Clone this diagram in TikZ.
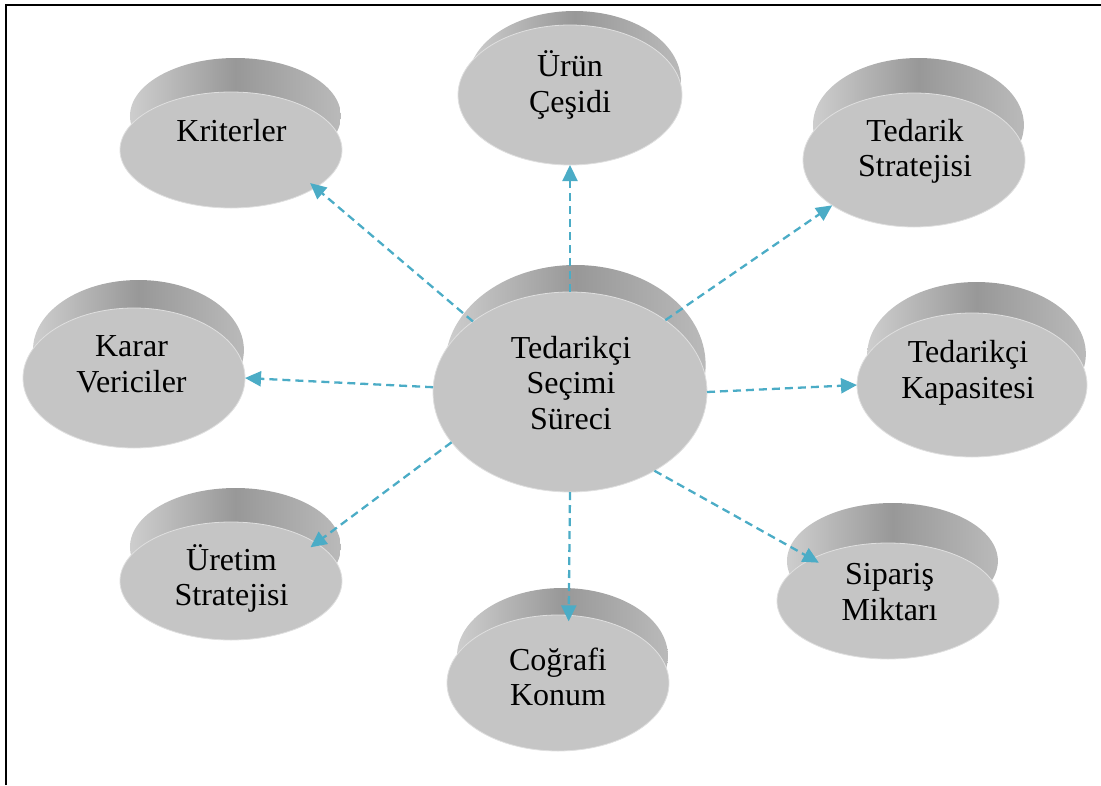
\documentclass[tikz,border=0pt]{standalone}
\usepackage{fontspec}
\setmainfont{Liberation Serif}
\usetikzlibrary{arrows.meta,shapes.geometric}

\definecolor{facegray}{RGB}{197,197,197}
\definecolor{rimL}{RGB}{206,206,206}
\definecolor{rimM}{RGB}{152,152,152}
\definecolor{rimR}{RGB}{186,186,186}
\definecolor{arrowblue}{RGB}{75,172,198}

\tikzset{
  face/.style={ellipse, inner sep=0pt, outer sep=0pt, fill=facegray,
               draw=facegray!55!white, line width=0.8pt},
  lbl/.style={align=center, inner sep=0pt, font=\fontsize{32}{35.5}\selectfont},
  conn/.style={draw=arrowblue, line width=2.3pt, dash pattern=on 8pt off 5pt,
               -{Triangle[length=16pt,width=15pt]}},
}

% disc: name, centre x, centre y, x radius, y radius, rim height
\newcommand\drawdisc[6]{%
  \shade[left color=rimL, right color=rimR, middle color=rimM]
    ({#2+0.04*#4},{#3-#6}) ellipse [x radius={0.95*#4pt}, y radius={#5pt}];
  \node[face, minimum width={2*#4pt}, minimum height={2*#5pt}] (#1) at (#2,#3) {};
}

\begin{document}
\begin{tikzpicture}[x=1pt,y=-1pt]
\useasboundingbox (0,0) rectangle (1101,785);

% frame
\draw[line width=2pt] (6,785) -- (6,5) -- (1101,5);

% discs
\drawdisc{kri}{231}{150}{111}{58}{34}
\drawdisc{uru}{570}{95}{112}{70}{14}
\drawdisc{ted}{914}{160}{111}{67}{35}
\drawdisc{kar}{134}{378}{111}{70}{28}
\drawdisc{kap}{972}{385}{115}{72}{31}
\drawdisc{ure}{231}{581}{111}{59}{34}
\drawdisc{cog}{558}{683}{111}{68}{27}
\drawdisc{sip}{888}{601}{111}{58}{40}
\drawdisc{tss}{570}{392}{137}{100}{27}

% labels
\node[lbl] (kriT) at (231.5,130.5) {Kriterler};
\node[lbl] (uruT) at (570,85) {Ürün\\Çeşidi};
\node[lbl] (tedT) at (915,151.5) {Tedarik\\Stratejisi};
\node[lbl] (karT) at (131.5,364.5) {Karar\\Vericiler};
\node[lbl] (kapT) at (968,373) {Tedarikçi\\Kapasitesi};
\node[lbl] (ureT) at (231.5,578.5) {Üretim\\Stratejisi};
\node[lbl] (cogT) at (558,677) {Coğrafi\\Konum};
\node[lbl] (sipT) at (889.5,592) {Sipariş\\Miktarı};
\node[lbl] (tssT) at (571,383) {Tedarikçi\\Seçimi\\Süreci};

% connectors
\draw[conn, shorten >=-7pt] (tss.144) -- (kri.-24);
\draw[conn] (tss.90) -- (uru.-90);
\draw[conn] (tss.37) -- (ted.-151);
\draw[conn] (tss.178) -- (kar.0);
\draw[conn] (tss.0) -- (kap.180);
\draw[conn, shorten >=-7pt] (tss.-157) -- (ure.24);
\draw[conn, shorten >=-6pt] (tss.-90) -- (cog.81);
\draw[conn, shorten >=-8pt] (tss.-43) -- (sip.151);
\end{tikzpicture}
\end{document}
